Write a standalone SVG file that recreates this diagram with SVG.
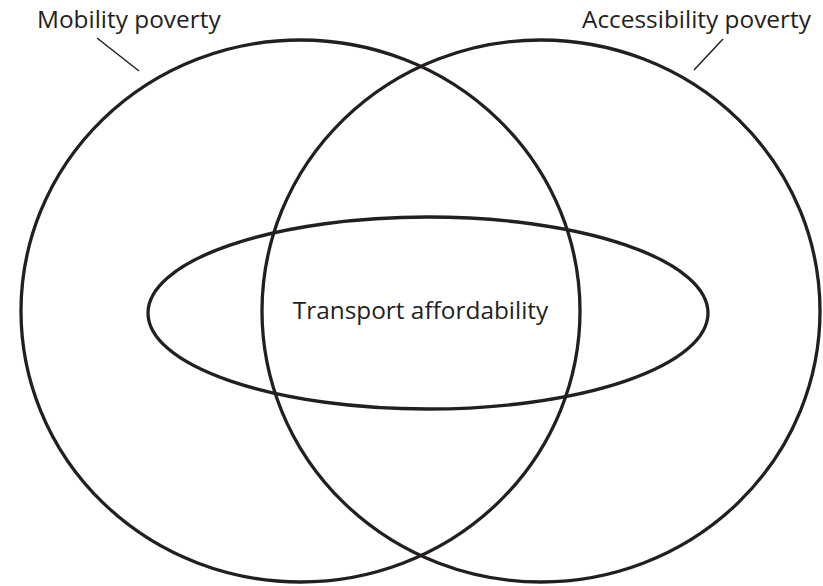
<svg xmlns="http://www.w3.org/2000/svg" width="823" height="586" viewBox="0 0 823 586">
<style>
.shape{fill:none;stroke:#231f20;stroke-width:3.3}
.lead{stroke:#231f20;stroke-width:1.5}
.lbl{font-family:"Open Sans","Noto Sans",sans-serif;font-size:24.4px;fill:#231f20}
</style>
<rect width="823" height="586" fill="#fff"/>
<g id="mobility">
<ellipse class="shape" cx="300.5" cy="311" rx="279.5" ry="271"/>
<text class="lbl" x="37" y="28">Mobility poverty</text>
</g>
<g id="accessibility">
<ellipse class="shape" cx="541" cy="311" rx="279" ry="271"/>
<text class="lbl" x="582" y="28">Accessibility poverty</text>
</g>
<g id="affordability">
<ellipse class="shape" cx="428" cy="313" rx="280" ry="96"/>
<text class="lbl" x="420.5" y="319" text-anchor="middle">Transport affordability</text>
</g>
<g id="connectors">
<line class="lead" x1="97" y1="38" x2="139" y2="71"/>
<line class="lead" x1="723" y1="39" x2="694" y2="70"/>
</g>
</svg>
